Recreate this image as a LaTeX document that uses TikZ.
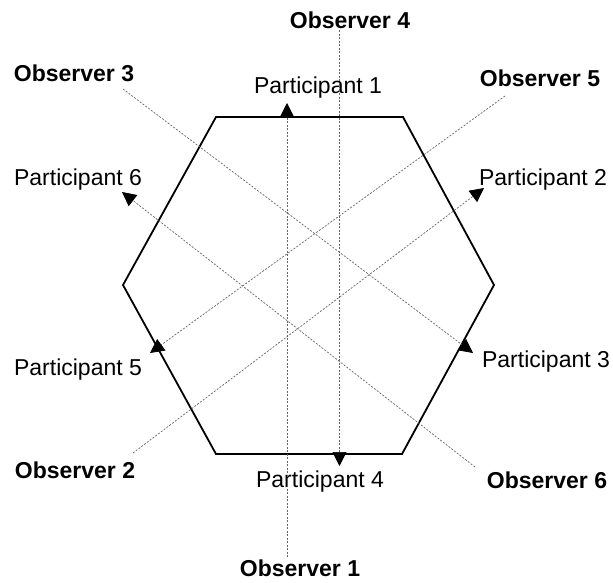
\documentclass[tikz,border=0pt]{standalone}
\usepackage{fontspec}
\setmainfont{Liberation Sans}
\usetikzlibrary{arrows.meta}
\begin{document}
\begin{tikzpicture}[x=1pt,y=-1pt,
  lbl/.style={font=\fontsize{23}{26}\selectfont, inner sep=0pt},
  obs/.style={font=\fontsize{23}{26}\selectfont\bfseries, inner sep=0pt},
  sight/.style={draw=black!60, dash pattern=on 2pt off 1.5pt, line width=0.7pt,
    -{Triangle[length=14pt,width=14pt,color=black]}},
  hexline/.style={draw=black, line width=1.8pt, line join=miter}]
\useasboundingbox (0,0) rectangle (613,582);
% hexagon
\draw[hexline] (216,117) -- (403,117) -- (494,285) -- (402,454) -- (216,454) -- (123,285) -- cycle;
% labels
\node[obs] (o4) at (350,20) {Observer 4};
\node[obs] (o3) at (74,73) {Observer 3};
\node[obs] (o5) at (540,78) {Observer 5};
\node[obs] (o2) at (75,470) {Observer 2};
\node[obs] (o6) at (547,480) {Observer 6};
\node[obs] (o1) at (300,568) {Observer 1};
\node[lbl] (p1) at (318,88) {Participant 1};
\node[lbl] (p6) at (78,180) {Participant 6};
\node[lbl] (p2) at (543,180) {Participant 2};
\node[lbl] (p5) at (78,370) {Participant 5};
\node[lbl] (p3) at (546,362) {Participant 3};
\node[lbl] (p4) at (320,482) {Participant 4};
% line ends
\coordinate (s1) at (287,557); \coordinate (t1) at (287,103);
\coordinate (s4) at (339.5,30); \coordinate (t4) at (339.5,466);
\coordinate (s3) at (123,89);  \coordinate (t3) at (473,353);
\coordinate (s6) at (475,467); \coordinate (t6) at (122,192);
\coordinate (s2) at (133,453); \coordinate (t2) at (484,188);
\coordinate (s5) at (505,96);  \coordinate (t5) at (150,353);
% sight lines
\draw[sight] (s1) -- (t1);
\draw[sight] (s4) -- (t4);
\draw[sight] (s3) -- (t3);
\draw[sight] (s6) -- (t6);
\draw[sight] (s2) -- (t2);
\draw[sight] (s5) -- (t5);
\end{tikzpicture}
\end{document}
